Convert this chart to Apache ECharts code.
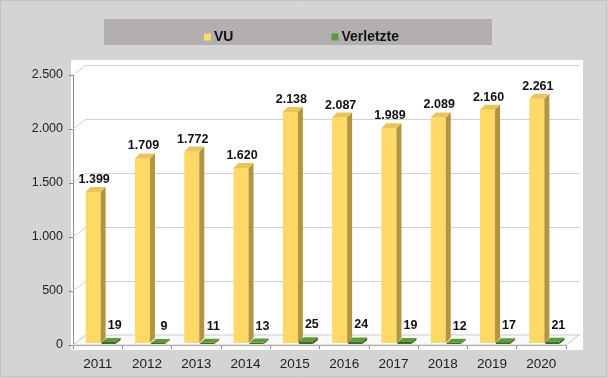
<!DOCTYPE html>
<html><head><meta charset="utf-8">
<script src="https://cdn.jsdelivr.net/npm/echarts@6/dist/echarts.min.js"></script>
</head><body style="margin:0;background:#d4d4d4">
<div id="c" style="width:608px;height:378px"></div>
<script>
const years = ['2011','2012','2013','2014','2015','2016','2017','2018','2019','2020'];
const vu = [1399,1709,1772,1620,2138,2087,1989,2089,2160,2261];
const verletzte = [19,9,11,13,25,24,19,12,17,21];
const yTicks = [0,500,1000,1500,2000,2500];

function fmt(v){ return String(v).replace(/\B(?=(\d{3})+(?!\d))/g,'.'); }

const DX = 13, DY = -10; // depth of the 3D box

function makeBar(opt){
  return function(params, api){
    const c = api.coord([api.value(0), api.value(1)]);
    const b = api.coord([api.value(0), 0]);
    const x0 = c[0] + opt.off, x1 = x0 + opt.w;
    const bot = b[1] + opt.base;
    const top = Math.min(c[1] + opt.base, bot - opt.minH);
    const dx = opt.dx, dy = opt.dy;
    return {type:'group', children:[
      {type:'rect', shape:{x:x0, y:top, width:opt.w, height:bot-top}, style:{fill:opt.front}},
      {type:'polygon', shape:{points:[[x1,top],[x1+dx,top+dy],[x1+dx,bot+dy],[x1,bot]]}, style:{fill:opt.side}},
      {type:'polygon', shape:{points:[[x0,top],[x0+dx,top+dy],[x1+dx,top+dy],[x1,top]]}, style:{fill:opt.top}},
      {type:'text', x:x0 + opt.w/2 + opt.lx, y:top + dy - opt.ly,
       style:{text:fmt(api.value(1)), fill:'#111', font:'bold 12.5px "Liberation Sans", Arial, sans-serif', textAlign:'center', textVerticalAlign:'bottom'}}
    ]};
  };
}

function renderWall(params, api){
  const cs = params.coordSys;
  const v = api.value(0);
  const p = api.coord([0, v]);
  const y = p[1];
  const x = cs.x;
  const children = [
    {type:'line', shape:{x1:x, y1:y, x2:x+DX, y2:y+DY}, style:{stroke:'#d2d2d2', lineWidth:1}}
  ];
  if (params.dataIndex === 0) {
    const r = cs.x + cs.width;
    children.push({type:'polygon', shape:{points:[[x,y],[x+DX,y+DY],[r+DX,y+DY],[r,y]]}, style:{fill:'#fafafa', stroke:'#cbcbcb', lineWidth:1}});
  }
  return {type:'group', children};
}

const chart = echarts.init(document.getElementById('c'), null, {renderer:'canvas'});
chart.setOption({
  backgroundColor:'#d4d4d4',
  animation:false,
  graphic:[
    {type:'rect', z:-10, shape:{x:0.5,y:0.5,width:606,height:376}, style:{fill:'#d4d4d4', stroke:'#c2c2c2', lineWidth:1}},
    {type:'rect', z:-9, shape:{x:71,y:60,width:512,height:290}, style:{fill:'#ffffff'}},
    {type:'rect', z:-9, shape:{x:104,y:19,width:388,height:26}, style:{fill:'#b3afaf'}}
  ],
  legend:{
    left:199, top:25, itemWidth:7, itemHeight:7, itemGap:98,
    icon:'rect',
    textStyle:{fontFamily:'"Liberation Sans", Arial, sans-serif', fontWeight:'bold', fontSize:14, color:'#111', padding:[0,0,0,-2]},
    data:[{name:'VU'},{name:'Verletzte'}]
  },
  grid:[
    {left:73, right:42, top:75, bottom:33},
    {left:73+DX, right:42-DX-1, top:75+DY, bottom:33-DY}
  ],
  xAxis:[
    {type:'category', gridIndex:0, data:years,
     axisLine:{lineStyle:{color:'#8c8c8c'}},
     axisTick:{show:true, length:4, lineStyle:{color:'#8c8c8c'}},
     axisLabel:{color:'#222', fontSize:13.5, fontFamily:'"Liberation Sans", Arial, sans-serif', margin:12}},
    {type:'category', gridIndex:1, data:years, show:false}
  ],
  yAxis:[
    {type:'value', gridIndex:0, min:0, max:2500, interval:500,
     axisLine:{show:true, lineStyle:{color:'#8c8c8c'}},
     axisTick:{show:true, length:4, lineStyle:{color:'#8c8c8c'}},
     splitLine:{show:false},
     axisLabel:{color:'#222', fontSize:12.5, fontFamily:'"Liberation Sans", Arial, sans-serif', margin:10, formatter:fmt}},
    {type:'value', gridIndex:1, min:0, max:2500, interval:500,
     axisLine:{show:false}, axisTick:{show:false}, axisLabel:{show:false},
     splitLine:{show:true, lineStyle:{color:'#d2d2d2'}}}
  ],
  series:[
    {type:'custom', name:'wall', xAxisIndex:0, yAxisIndex:0, z:1, silent:true,
     data:yTicks.map(t=>[t]), encode:{y:0}, renderItem:renderWall},
    {type:'custom', name:'VU', xAxisIndex:0, yAxisIndex:0, z:3,
     itemStyle:{color:'#FFD966'},
     data:years.map((y,i)=>[i, vu[i]]),
     encode:{x:0, y:1},
     renderItem:makeBar({off:-12, w:15, dx:5, dy:-5, base:-2, minH:1, front:'#FFD966', side:'#B39540', top:'#E8C45A', lx:1, ly:1})},
    {type:'custom', name:'Verletzte', xAxisIndex:0, yAxisIndex:0, z:3,
     itemStyle:{color:'#5B9A3A'},
     data:years.map((y,i)=>[i, verletzte[i]]),
     encode:{x:0, y:1},
     renderItem:makeBar({off:4, w:14, dx:5, dy:-4, base:-1, minH:1, front:'#3D6B24', side:'#35601F', top:'#5E9A3A', lx:6, ly:6})}
  ]
});
</script>
</body></html>
